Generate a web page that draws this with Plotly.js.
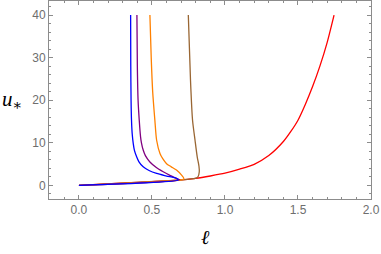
<!DOCTYPE html>
<html>
<head>
<meta charset="utf-8">
<script src="https://cdn.plot.ly/plotly-3.0.1.min.js"></script>
<style>html,body{margin:0;padding:0;background:#fff;}#chart{width:381px;height:254px;}</style>
</head>
<body>
<div id="chart"></div>
<script>
// Data
const redL    = [0, 0.35, 0.68, 0.8, 0.9, 1.0, 1.1, 1.2, 1.3, 1.4, 1.45, 1.5, 1.55, 1.6, 1.65, 1.7, 1.747];
const redU    = [0, 0.62, 1.24, 1.65, 2.2, 2.85, 3.8, 4.95, 7.0, 10.3, 12.6, 15.3, 19.0, 23.2, 28.0, 33.6, 40];

const brownL  = [0, 0.68, 0.74, 0.795, 0.815, 0.824, 0.822, 0.81, 0.795, 0.778, 0.764, 0.749];
const brownU  = [0, 1.24, 1.42, 1.64, 2.0, 3.2, 4.5, 6.7, 10.6, 15.3, 24.7, 40];

const orangeL = [0, 0.715, 0.719, 0.703, 0.668, 0.63, 0.6, 0.575, 0.555, 0.532, 0.52, 0.505, 0.495, 0.486];
const orangeU = [0, 1.4, 1.6, 2.4, 3.6, 4.4, 5.1, 6.2, 7.5, 10.6, 15.3, 22, 30, 40];

const purpleL = [0, 0.69, 0.668, 0.62, 0.577, 0.53, 0.486, 0.455, 0.44, 0.428, 0.422, 0.413, 0.405, 0.4, 0.397];
const purpleU = [0, 1.3, 1.64, 2.4, 3.2, 4.2, 5.5, 7.0, 8.3, 10, 11.4, 15.3, 20, 28, 40];

const blueL   = [0, 0.68, 0.668, 0.6, 0.532, 0.48, 0.44, 0.41, 0.395, 0.38, 0.372, 0.365, 0.36, 0.357, 0.355, 0.354];
const blueU   = [0, 1.24, 1.64, 2.2, 2.8, 3.5, 4.35, 5.6, 6.7, 8.2, 9.8, 12, 15.3, 20, 28, 40];

const xTicks = [0, 0.5, 1, 1.5, 2];
const xTickText = ["0.0", "0.5", "1.0", "1.5", "2.0"];
const yTicks = [0, 10, 20, 30, 40];

function tr(x, y, c) {
  return {x: x, y: y, mode: 'lines', line: {color: c, width: 1.3, shape: 'spline', smoothing: 0.7},
          hoverinfo: 'skip', showlegend: false};
}

const data = [
  tr(redL, redU, '#ff0000'),
  tr(brownL, brownU, '#996633'),
  tr(orangeL, orangeU, '#ff8000'),
  tr(purpleL, purpleU, '#800080'),
  tr(blueL, blueU, '#0000ff')
];

const axisCommon = {
  showgrid: false, zeroline: false, showline: true, linecolor: '#8c8c8c', linewidth: 1,
  mirror: 'ticks', ticks: 'inside', ticklen: 4, tickcolor: '#8c8c8c', tickwidth: 1,
  tickfont: {family: 'Liberation Sans, Arial, sans-serif', size: 12, color: '#6e6e6e'}
};

const layout = {
  width: 381, height: 254,
  margin: {l: 49, r: 10, t: 1, b: 55},
  paper_bgcolor: '#fff', plot_bgcolor: '#fff',
  xaxis: Object.assign({}, axisCommon, {
    range: [-0.205, 2.0], tickmode: 'array', tickvals: xTicks, ticktext: xTickText,
    minor: {ticks: 'inside', dtick: 0.1, ticklen: 2, tickcolor: '#8c8c8c'}
  }),
  yaxis: Object.assign({}, axisCommon, {
    range: [-3.2, 43.3], tickmode: 'array', tickvals: yTicks,
    minor: {ticks: 'inside', dtick: 2, ticklen: 2, tickcolor: '#8c8c8c'}
  }),
  annotations: [
    {text: '<i>u</i><sub>∗</sub>', xref: 'paper', yref: 'y', x: -0.115, y: 20,
     xanchor: 'center', yanchor: 'middle', showarrow: false,
     font: {family: 'Liberation Serif, DejaVu Serif, serif', size: 21, color: '#000'}},
    {text: '<i>ℓ</i>', xref: 'x', yref: 'paper', x: 0.87, y: -0.19,
     xanchor: 'center', yanchor: 'middle', showarrow: false,
     font: {family: 'Liberation Serif, DejaVu Serif, serif', size: 20, color: '#000'}}
  ]
};

Plotly.newPlot('chart', data, layout, {staticPlot: true, displayModeBar: false});
</script>
</body>
</html>
